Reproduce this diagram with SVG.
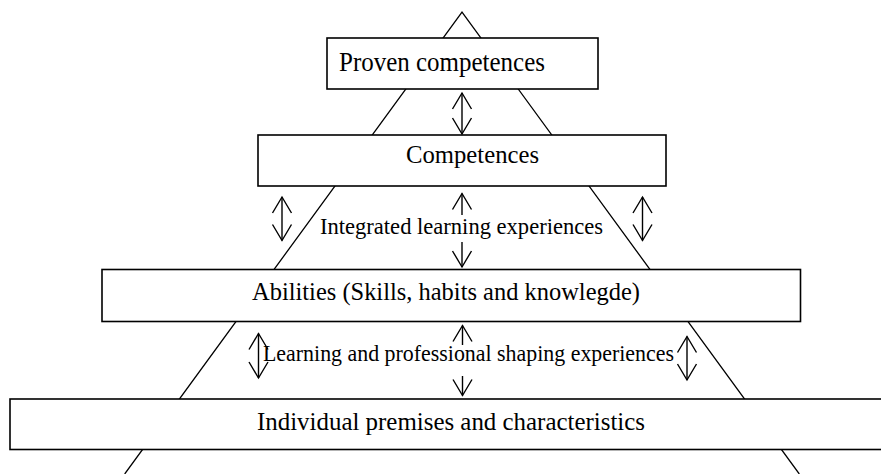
<svg xmlns="http://www.w3.org/2000/svg" width="881" height="474" viewBox="0 0 881 474">
<style>
.bg{fill:#fff}
.tri{stroke:#000;stroke-width:1.3;fill:none}
.box{fill:#fff;stroke:#000;stroke-width:1.6}
.t{font-family:"Liberation Serif","Times New Roman",serif;fill:#000}
.arr{stroke:#000;stroke-width:1.4;fill:none;marker-end:url(#h)}
.dbl{stroke:#000;stroke-width:1.4;fill:none;marker-start:url(#h);marker-end:url(#h)}
</style>
<defs>
<marker id="h" markerUnits="userSpaceOnUse" markerWidth="20" markerHeight="24" viewBox="-18 -11 20 22" refX="0" refY="0" orient="auto-start-reverse" overflow="visible">
<path d="M-16,-9.5 L0,0 L-16,9.5" fill="none" stroke="#000" stroke-width="1.4"/>
</marker>
</defs>
<rect class="bg" x="0" y="0" width="881" height="474"/>
<g id="pyramid">
<polyline class="tri" points="124.7,474 462,12 799.3,474"/>
</g>
<g id="node-individual">
<rect class="box" x="10" y="399" width="880" height="50.5"/>
<text class="t" x="257" y="430" font-size="25" textLength="388" lengthAdjust="spacingAndGlyphs">Individual premises and characteristics</text>
</g>
<g id="node-abilities">
<rect class="box" x="102" y="269.5" width="698.5" height="52"/>
<text class="t" x="252" y="300" font-size="25" textLength="388" lengthAdjust="spacingAndGlyphs">Abilities (Skills, habits and knowlegde)</text>
</g>
<g id="node-competences">
<rect class="box" x="258" y="135" width="408" height="51"/>
<text class="t" x="406" y="163" font-size="26" textLength="133" lengthAdjust="spacingAndGlyphs">Competences</text>
</g>
<g id="node-proven">
<rect class="box" x="327" y="38" width="271" height="51"/>
<text class="t" x="339" y="70.5" font-size="27" textLength="206" lengthAdjust="spacingAndGlyphs">Proven competences</text>
</g>
<g id="connectors">
<line class="dbl" x1="462" y1="93" x2="462" y2="134"/>
<line class="dbl" x1="282" y1="197" x2="282" y2="240.5"/>
<line class="dbl" x1="642.5" y1="197" x2="642.5" y2="240.5"/>
<line class="arr" x1="462" y1="215" x2="462" y2="193.5"/>
<line class="arr" x1="462" y1="242" x2="462" y2="267"/>
<line class="dbl" x1="258.5" y1="333.5" x2="258.5" y2="378"/>
<line class="dbl" x1="687" y1="336.5" x2="687" y2="380"/>
<line class="arr" x1="462.5" y1="345" x2="462.5" y2="325.5"/>
<line class="arr" x1="462.5" y1="376" x2="462.5" y2="395.5"/>
</g>
<g id="label-integrated">
<text class="t" x="320" y="233.5" font-size="23.5" textLength="283" lengthAdjust="spacingAndGlyphs">Integrated learning experiences</text>
</g>
<g id="label-learning">
<text class="t" x="263" y="360.5" font-size="23.5" textLength="411" lengthAdjust="spacingAndGlyphs">Learning and professional shaping experiences</text>
</g>
</svg>
